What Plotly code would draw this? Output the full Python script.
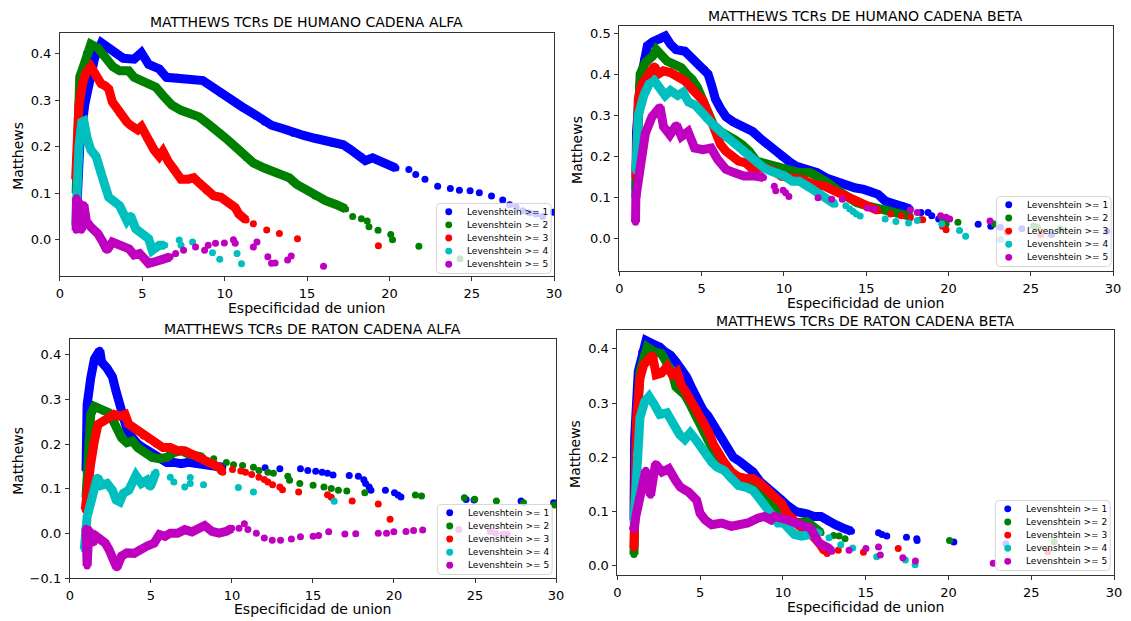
import plotly.graph_objects as go

W, H = 1131, 621

TITLES = ["MATTHEWS TCRs DE HUMANO CADENA ALFA", "MATTHEWS TCRs DE HUMANO CADENA BETA",
          "MATTHEWS TCRs DE RATON CADENA ALFA", "MATTHEWS TCRs DE RATON CADENA BETA"]
SERIES_NAMES = ["Levenshtein >= 1", "Levenshtein >= 2", "Levenshtein >= 3",
                "Levenshtein >= 4", "Levenshtein >= 5"]
X_LABEL = "Especificidad de union"
Y_LABEL = "Matthews"
X_TICKS = [0, 5, 10, 15, 20, 25, 30]
Y_TICKS_HA = [0.0, 0.1, 0.2, 0.3, 0.4]
Y_TICKS_HB = [0.0, 0.1, 0.2, 0.3, 0.4, 0.5]
Y_TICKS_RA = [-0.1, 0.0, 0.1, 0.2, 0.3, 0.4]
Y_TICKS_RB = [0.0, 0.1, 0.2, 0.3, 0.4]

# ---------------- Human alpha ----------------
HA1_DENSE = [(1.0,0.05),(1.2,0.2),(1.5,0.29),(1.8,0.34),(2.1,0.39),(2.52,0.423),(3.1,0.41),(3.84,0.39),
             (4.5,0.388),(4.94,0.402),(5.38,0.377),(6.03,0.367),(6.47,0.349),(7.13,0.349),(7.79,0.345),
             (8.67,0.342),(9.1,0.331),(9.77,0.314),(10.4,0.3),(11.08,0.285),(11.74,0.271),(12.4,0.253),
             (12.84,0.246),(13.5,0.239),(14.15,0.229),(14.8,0.224),(15.47,0.218),(16.13,0.211),
             (16.57,0.207),(17.2,0.204),(17.67,0.193),(18.3,0.179),(18.54,0.17),(18.98,0.176),
             (19.64,0.165),(20.4,0.154)]
HA1_SPARSE = [(21.18,0.151),(21.6,0.14),(22.16,0.13),(22.93,0.115),(23.7,0.11),(24.25,0.106),(24.9,0.105),
              (25.46,0.101),(26.2,0.094),(26.88,0.085),(27.3,0.075),(27.7,0.07),(28.1,0.062),(28.5,0.058),
              (28.9,0.055),(29.3,0.05),(29.95,0.059)]
HA2_DENSE = [(0.98,0.1),(1.05,0.26),(1.2,0.35),(1.4,0.37),(1.6,0.4),(1.87,0.42),(2.3,0.412),(2.6,0.398),
             (2.96,0.384),(3.2,0.372),(3.62,0.363),(4.17,0.363),(4.5,0.349),(4.94,0.342),(5.38,0.335),
             (5.82,0.328),(6.25,0.31),(6.8,0.289),(7.35,0.278),(7.79,0.271),(8.45,0.264),(9.1,0.246),
             (9.77,0.229),(10.2,0.214),(10.86,0.193),(11.3,0.176),(11.74,0.165),(12.4,0.154),(12.84,0.147),
             (13.28,0.14),(13.93,0.133),(14.37,0.119),(15.03,0.105),(15.47,0.094),(16.13,0.084),
             (16.79,0.075),(17.34,0.066)]
HA2_SPARSE = [(17.77,0.05),(18.3,0.045),(18.65,0.04),(18.76,0.028),(19.31,0.02),(20.08,0.011),(20.19,0.0),
              (21.79,-0.014),(24.29,-0.041)]
HA3_DENSE = [(0.95,0.13),(1.0,0.2),(1.15,0.29),(1.4,0.34),(1.6,0.36),(1.87,0.372),(2.19,0.349),(2.5,0.335),
             (2.74,0.331),(2.96,0.324),(3.18,0.296),(3.62,0.271),(4.06,0.253),(4.28,0.246),(4.72,0.236),
             (4.94,0.243),(5.27,0.218),(5.71,0.193),(6.03,0.179),(6.25,0.19),(6.58,0.168),(6.91,0.154),
             (7.35,0.13),(7.79,0.13),(8.12,0.133),(8.45,0.122),(8.89,0.105),(9.33,0.094),(9.77,0.091),
             (10.2,0.08),(10.64,0.069),(10.86,0.055),(11.3,0.042)]
HA3_SPARSE = [(11.74,0.034),(12.55,0.021),(13.32,0.013),(14.42,0.002),(19.33,-0.013)]
HA4_DENSE = [(0.95,0.03),(1.0,0.1),(1.15,0.2),(1.32,0.253),(1.45,0.255),(1.65,0.218),(1.87,0.193),
             (2.19,0.179),(2.41,0.147),(2.74,0.115),(2.96,0.091),(3.29,0.084),(3.62,0.073),(4.06,0.041),
             (4.28,0.052),(4.6,0.023),(4.94,0.016),(5.38,0.002),(5.6,-0.023),(6.03,-0.012),(6.36,-0.012)]
HA4_SPARSE = [(7.24,-0.001),(7.35,-0.012),(8.05,-0.005),(9.26,-0.028),(9.7,-0.042),(10.75,-0.03),
              (11.02,-0.052)]
HA5_DENSE = [(0.98,0.02),(1.0,0.09),(1.1,0.03),(1.2,0.08),(1.3,0.02),(1.45,0.075),(1.6,0.04),(1.87,0.027),
             (2.3,0.013),(2.6,-0.005),(2.85,-0.023),(3.18,-0.005),(3.5,-0.01),(3.84,-0.016),(4.2,-0.02),
             (4.5,-0.033),(4.83,-0.03),(5.1,-0.04),(5.38,-0.051),(5.82,-0.047),(6.25,-0.044),(6.69,-0.037)]
HA5_SPARSE = [(7.02,-0.03),(7.5,-0.023),(8.23,-0.016),(8.78,-0.023),(9.0,-0.012),(9.44,-0.008),
              (9.98,-0.007),(10.53,0.0),(10.64,-0.008),(11.74,-0.016),(11.96,-0.005),(12.62,-0.037),
              (12.84,-0.051),(13.06,-0.05),(13.82,-0.044),(14.04,-0.035),(16.0,-0.057)]

# ---------------- Human beta ----------------
HB1_DENSE = [(1.0,0.1),(1.04,0.26),(1.26,0.38),(1.48,0.437),(1.7,0.47),(2.02,0.48),(2.46,0.485),
             (2.78,0.494),(3.1,0.474),(3.43,0.461),(3.98,0.457),(4.41,0.441),(4.85,0.421),(5.17,0.413),
             (5.39,0.401),(5.61,0.373),(5.83,0.341),(6.15,0.317),(6.48,0.297),(6.91,0.285),(7.57,0.273),
             (8.1,0.261),(8.54,0.245),(8.98,0.229),(9.41,0.217),(9.85,0.2),(10.28,0.189),(10.72,0.177),
             (11.37,0.169),(12.02,0.161),(12.57,0.148),(13.1,0.14),(13.76,0.132),(14.3,0.124),(14.85,0.12),
             (15.28,0.116),(15.72,0.108),(16.15,0.092),(16.8,0.084),(17.24,0.08),(17.67,0.072)]
HB1_SPARSE = [(18.33,0.064),(18.76,0.064),(18.98,0.056),(19.4,0.048),(21.8,0.035),(22.57,0.03),
              (23.15,0.028),(24.46,0.024),(26.26,0.01),(29.63,0.018)]
HB2_DENSE = [(1.0,0.12),(1.1,0.3),(1.26,0.401),(1.59,0.43),(2.02,0.445),(2.24,0.461),(2.57,0.449),
             (2.89,0.433),(3.33,0.425),(3.76,0.417),(4.09,0.401),(4.41,0.389),(4.74,0.369),(5.07,0.341),
             (5.39,0.305),(5.72,0.277),(6.15,0.261),(6.59,0.253),(7.02,0.241),(7.46,0.229),(7.89,0.213),
             (8.33,0.189),(8.98,0.181),(9.63,0.177),(10.28,0.169),(10.93,0.161),(11.59,0.161),(12.02,0.152),
             (12.67,0.136),(13.33,0.116),(13.98,0.1),(14.41,0.088),(15.07,0.08),(15.72,0.072),(16.48,0.068),
             (17.13,0.06),(17.67,0.055)]
HB2_SPARSE = [(18.33,0.046),(19.63,0.048),(19.85,0.036),(20.57,0.04),(22.78,0.036),(25.17,0.031),
              (25.4,0.028),(26.8,0.023)]
HB3_DENSE = [(1.0,0.15),(1.15,0.341),(1.37,0.377),(1.8,0.401),(2.13,0.421),(2.35,0.401),(2.67,0.409),
             (3.1,0.405),(3.54,0.397),(3.98,0.385),(4.41,0.365),(4.74,0.349),(5.07,0.337),(5.28,0.317),
             (5.61,0.285),(5.93,0.253),(6.15,0.229),(6.48,0.213),(6.8,0.205),(7.24,0.189),(7.67,0.185),
             (8.1,0.169),(8.76,0.173),(9.2,0.169),(9.85,0.152),(10.5,0.148),(11.15,0.144),(11.8,0.132),
             (12.46,0.128),(13.1,0.116),(13.76,0.104),(14.41,0.088),(15.07,0.076),(15.72,0.068)]
HB3_SPARSE = [(16.48,0.06),(17.13,0.056),(17.67,0.051),(18.43,0.046),(19.63,0.03),(19.85,0.022),
              (23.54,0.016),(25.6,0.01)]
HB4_DENSE = [(1.0,0.165),(1.15,0.301),(1.48,0.349),(1.8,0.377),(2.13,0.385),(2.46,0.365),(2.78,0.349),
             (3.1,0.361),(3.54,0.349),(3.87,0.357),(4.2,0.333),(4.63,0.325),(4.96,0.309),(5.28,0.293),
             (5.72,0.277),(6.15,0.261),(6.59,0.245),(7.02,0.233),(7.46,0.217),(7.89,0.2),(8.33,0.185),
             (8.76,0.173),(9.2,0.165),(9.63,0.161),(10.07,0.152),(10.5,0.14),(10.93,0.14),(11.59,0.124),
             (12.02,0.112),(12.67,0.096),(13.1,0.084)]
HB4_SPARSE = [(13.76,0.08),(14.0,0.072),(14.2,0.066),(14.4,0.06),(14.63,0.055),(16.15,0.048),(16.8,0.042),
              (17.57,0.038),(18.1,0.044),(19.59,0.036),(20.67,0.02),(21.04,0.006),(23.15,-0.002)]
HB5_DENSE = [(0.98,0.04),(1.0,0.1),(1.28,0.177),(1.58,0.257),(1.98,0.297),(2.47,0.321),(2.68,0.273),
             (3.07,0.253),(3.47,0.277),(3.77,0.249),(4.17,0.261),(4.57,0.221),(5.07,0.217),(5.57,0.221),
             (5.97,0.193),(6.47,0.169),(6.96,0.161),(7.56,0.153),(8.16,0.153),(8.76,0.149)]
HB5_SPARSE = [(9.41,0.128),(9.5,0.117),(9.95,0.118),(10.1,0.112),(10.3,0.103),(12.07,0.1),(12.9,0.096),
              (13.54,0.096),(15.07,0.075),(15.5,0.072),(17.67,0.07),(18.1,0.064),(19.52,0.056),
              (19.85,0.052),(20.07,0.048),(22.52,0.043)]

# ---------------- Mouse alpha ----------------
RA1_DENSE = [(1.0,0.14),(1.07,0.288),(1.29,0.347),(1.52,0.39),(1.85,0.409),(1.96,0.383),(2.3,0.369),
             (2.63,0.35),(2.86,0.317),(3.08,0.288),(3.3,0.258),(3.52,0.233),(3.86,0.214),(4.19,0.2),
             (4.64,0.189),(5.09,0.178),(5.53,0.17),(5.98,0.159),(6.42,0.159),(6.87,0.156),(7.32,0.159),
             (7.76,0.157),(8.43,0.152),(9.1,0.148),(9.44,0.148)]
RA1_SPARSE = [(12.05,0.147),(12.96,0.145),(14.23,0.145),(14.68,0.141),(15.17,0.139),(15.57,0.137),
              (15.9,0.135),(16.24,0.131),(17.24,0.13),(17.8,0.128),(18.14,0.12),(18.25,0.112),(18.47,0.104),
              (18.58,0.097),(19.47,0.097),(20.03,0.091),(20.25,0.086),(20.43,0.082),(24.45,0.076),
              (24.94,0.075),(27.84,0.073),(29.85,0.069)]
RA2_DENSE = [(1.0,0.08),(1.18,0.214),(1.29,0.266),(1.52,0.284),(1.74,0.28),(2.07,0.273),(2.41,0.27),
             (2.74,0.247),(2.97,0.229),(3.19,0.214),(3.52,0.203),(3.86,0.207),(4.19,0.192),(4.64,0.181),
             (5.09,0.17),(5.53,0.167),(5.98,0.17),(6.42,0.181),(6.87,0.185),(7.32,0.178),(7.99,0.174),
             (8.21,0.17)]
RA2_SPARSE = [(8.88,0.167),(9.66,0.159),(10.1,0.154),(10.66,0.152),(11.33,0.148),(11.67,0.141),
              (12.22,0.137),(12.56,0.135),(13.45,0.128),(13.56,0.119),(14.19,0.112),(15.01,0.108),
              (15.68,0.104),(16.13,0.101),(16.57,0.097),(17.09,0.095),(18.2,0.091),(21.32,0.086),
              (21.7,0.084),(24.34,0.08),(24.98,0.077),(26.32,0.073),(27.99,0.069),(29.89,0.064)]
RA3_DENSE = [(0.95,0.053),(1.07,0.097),(1.29,0.156),(1.52,0.207),(1.74,0.244),(2.07,0.251),(2.41,0.258),
             (2.74,0.266),(3.08,0.262),(3.41,0.266),(3.64,0.244),(3.97,0.236),(4.31,0.229),(4.53,0.218),
             (4.86,0.211),(5.31,0.2),(5.75,0.192),(6.2,0.192),(6.65,0.185),(7.09,0.185),(7.54,0.178),
             (7.99,0.17),(8.43,0.163),(8.88,0.156),(9.21,0.148),(9.44,0.137)]
RA3_SPARSE = [(10.04,0.143),(10.55,0.14),(10.84,0.137),(11.22,0.132),(11.67,0.126),(12.0,0.121),
              (12.22,0.115),(12.51,0.109),(12.96,0.104),(13.12,0.098),(14.12,0.093),(15.9,0.087),
              (16.13,0.081),(17.42,0.073),(19.03,0.066),(19.76,0.032)]
RA4_DENSE = [(0.89,-0.035),(0.96,0.009),(1.07,0.038),(1.29,0.068),(1.52,0.097),(1.7,0.126),(1.96,0.108),
             (2.3,0.112),(2.63,0.097),(2.86,0.075),(3.08,0.071),(3.3,0.09),(3.64,0.097),(3.86,0.112),
             (4.08,0.13),(4.42,0.112),(4.75,0.119),(4.97,0.104),(5.2,0.12),(5.31,0.137)]
RA4_SPARSE = [(6.2,0.126),(6.42,0.115),(7.09,0.104),(7.43,0.125),(7.43,0.112),(8.25,0.109),(10.4,0.103),
              (11.33,0.093),(16.31,0.072)]
RA5_DENSE = [(1.0,0.012),(1.07,-0.072),(1.18,0.009),(1.41,-0.021),(1.63,-0.006),(1.85,-0.01),
             (2.19,-0.021),(2.41,-0.035),(2.74,-0.057),(2.9,-0.076),(3.19,-0.05),(3.52,-0.043),
             (3.97,-0.044),(4.31,-0.035),(4.75,-0.028),(5.2,-0.021),(5.53,-0.002),(5.87,-0.006),
             (6.2,0.001),(6.65,0.001),(7.09,0.009),(7.54,0.004),(7.99,0.012),(8.32,0.018),(8.77,0.005),
             (9.21,0.001),(9.66,0.005),(9.99,0.012)]
RA5_SPARSE = [(10.44,0.012),(10.77,0.022),(10.99,0.009),(11.51,0.001),(12.0,-0.01),(12.49,-0.015),
              (13.0,-0.015),(13.67,-0.012),(14.23,-0.007),(15.01,-0.006),(15.35,-0.004),(15.97,0.004),
              (16.97,-0.001),(17.64,0.0),(19.03,0.001),(19.54,0.001),(19.99,0.004),(20.74,0.005),
              (21.21,0.007),(21.77,0.008),(24.0,0.009),(25.94,0.005),(26.28,0.001),(26.72,-0.001),
              (26.99,-0.001)]

# ---------------- Mouse beta ----------------
RB1_DENSE = [(1.0,0.085),(1.04,0.236),(1.26,0.358),(1.47,0.394),(1.73,0.415),(2.12,0.409),(2.56,0.403),
             (2.88,0.394),(3.21,0.388),(3.53,0.376),(3.86,0.364),(4.18,0.348),(4.5,0.327),(4.83,0.306),
             (5.15,0.288),(5.48,0.276),(5.8,0.261),(6.24,0.239),(6.67,0.218),(7.0,0.2),(7.32,0.194),
             (7.75,0.182),(8.19,0.173),(8.62,0.155),(9.05,0.142),(9.49,0.13),(9.92,0.121),(10.24,0.112),
             (10.79,0.1),(11.44,0.096),(11.87,0.091),(12.3,0.091),(12.74,0.082),(13.17,0.076),(13.6,0.07),
             (14.14,0.064)]
RB1_SPARSE = [(15.77,0.061),(15.98,0.058),(16.27,0.055),(17.46,0.053),(18.08,0.05),(18.1,0.047),
              (20.32,0.044),(23.46,0.041)]
RB2_DENSE = [(1.0,0.021),(1.04,0.115),(1.15,0.236),(1.36,0.358),(1.58,0.388),(1.8,0.403),(2.23,0.394),
             (2.66,0.391),(2.99,0.373),(3.31,0.355),(3.53,0.33),(3.75,0.324),(4.07,0.315),(4.4,0.297),
             (4.72,0.279),(5.05,0.258),(5.37,0.242),(5.7,0.218),(6.02,0.194),(6.35,0.179),(6.67,0.17),
             (7.1,0.164),(7.54,0.158),(7.97,0.155),(8.4,0.152),(8.84,0.139),(9.27,0.121),(9.7,0.106),
             (10.24,0.091),(10.79,0.079),(11.44,0.082),(11.87,0.07),(12.3,0.061)]
RB2_SPARSE = [(13.06,0.056),(13.39,0.055),(13.75,0.05),(20.06,0.047),(26.38,0.044)]
RB3_DENSE = [(1.0,0.033),(1.04,0.085),(1.15,0.267),(1.36,0.345),(1.58,0.37),(1.91,0.382),(2.12,0.388),
             (2.34,0.352),(2.66,0.355),(2.99,0.367),(3.31,0.352),(3.6,0.358),(3.86,0.333),(4.18,0.318),
             (4.5,0.3),(4.83,0.288),(5.15,0.27),(5.48,0.248),(5.8,0.224),(6.13,0.203),(6.45,0.191),
             (6.89,0.173),(7.32,0.164),(7.75,0.161),(8.19,0.161),(8.62,0.152),(9.05,0.139),(9.49,0.127),
             (9.92,0.115),(10.24,0.097),(10.57,0.085),(11.0,0.073),(11.44,0.067),(11.87,0.055),
             (12.19,0.042),(12.52,0.027)]
RB3_SPARSE = [(12.67,0.023),(13.34,0.029),(14.86,0.025),(16.96,0.032),(26.0,0.026)]
RB4_DENSE = [(1.0,0.079),(1.15,0.206),(1.36,0.273),(1.65,0.303),(1.91,0.312),(2.23,0.297),(2.56,0.279),
             (2.99,0.282),(3.31,0.264),(3.75,0.242),(4.07,0.233),(4.4,0.245),(4.72,0.233),(5.05,0.218),
             (5.37,0.203),(5.7,0.191),(6.02,0.182),(6.45,0.176),(6.89,0.161),(7.32,0.148),(7.75,0.145),
             (8.19,0.139),(8.51,0.127),(8.84,0.112),(9.16,0.097),(9.49,0.082),(9.7,0.079),(10.03,0.079),
             (10.35,0.067),(10.68,0.058),(11.11,0.055),(11.65,0.058),(12.19,0.061)]
RB4_SPARSE = [(12.78,0.052),(13.49,0.039),(14.21,0.033),(15.66,0.017),(17.39,0.011),(17.98,0.002)]
RB5_DENSE = [(0.95,0.073),(1.01,0.067),(1.11,0.091),(1.31,0.127),(1.51,0.151),(1.71,0.176),(2.0,0.13),
             (2.3,0.188),(2.7,0.173),(3.1,0.179),(3.5,0.158),(3.8,0.145),(4.3,0.136),(4.79,0.121),
             (4.99,0.097),(5.29,0.085),(5.69,0.076),(6.29,0.079),(6.89,0.073),(7.28,0.074),(7.88,0.079),
             (8.48,0.088),(8.87,0.091),(9.27,0.085),(9.49,0.091),(10.24,0.085),(11.0,0.076),(11.65,0.07),
             (11.98,0.052),(12.19,0.042),(12.74,0.033),(12.95,0.027)]
RB5_SPARSE = [(13.99,0.029),(15.01,0.032),(15.77,0.035),(15.88,0.02),(17.24,0.015),(18.0,0.009),
              (22.7,0.005)]

PANELS = [
    [(HA1_DENSE, HA1_SPARSE), (HA2_DENSE, HA2_SPARSE), (HA3_DENSE, HA3_SPARSE), (HA4_DENSE, HA4_SPARSE), (HA5_DENSE, HA5_SPARSE)],
    [(HB1_DENSE, HB1_SPARSE), (HB2_DENSE, HB2_SPARSE), (HB3_DENSE, HB3_SPARSE), (HB4_DENSE, HB4_SPARSE), (HB5_DENSE, HB5_SPARSE)],
    [(RA1_DENSE, RA1_SPARSE), (RA2_DENSE, RA2_SPARSE), (RA3_DENSE, RA3_SPARSE), (RA4_DENSE, RA4_SPARSE), (RA5_DENSE, RA5_SPARSE)],
    [(RB1_DENSE, RB1_SPARSE), (RB2_DENSE, RB2_SPARSE), (RB3_DENSE, RB3_SPARSE), (RB4_DENSE, RB4_SPARSE), (RB5_DENSE, RB5_SPARSE)],
]
Y_TICKS = [Y_TICKS_HA, Y_TICKS_HB, Y_TICKS_RA, Y_TICKS_RB]

# ---------------- layout (pixel geometry) ----------------
COLORS = ["#0000ff", "#008000", "#ff0000", "#00bfbf", "#bf00bf"]
FONT = "DejaVu Sans"
# axes boxes in pixels: left, right, top, bottom
BOXES = [(56.6, 556, 33.3, 280), (622, 1121, 26.7, 275), (66.5, 558, 343.3, 586), (620, 1122, 334.3, 582.7)]
Y_RANGES = [(-0.079, 0.4446), (-0.080, 0.5176), (-0.1, 0.4346), (-0.0171, 0.4345)]
TITLE_POS = [(306, 22), (871, 16), (312, 333), (871, 325)]
YLAB_POS = [(14, 158), (579, 152), (14, 467), (577, 460)]
# x-label: centre x, bottom edge of the text box (pixels)
XLAB_POS = [(306, 321), (871, 316), (312, 626), (871, 624)]
# legend boxes: right, bottom (pixels)
LEG_POS = [(553, 277), (1119, 270), (554, 582), (1118, 578)]
LEG_W, LEG_H, LEG_ROW, LEG_TOP_PAD, LEG_MARK_X, LEG_TEXT_X, LEG_R = 116, 71, 13.3, 8.5, 12.5, 29, 4


def px(x):
    return x / W


def py(y):
    return 1 - y / H


fig = go.Figure()
for p, panel in enumerate(PANELS):
    sfx = "" if p == 0 else str(p + 1)
    for s, (dense, sparse) in enumerate(panel):
        dx = [pt[0] for pt in dense]
        dy = [pt[1] for pt in dense]
        ax = dx + [pt[0] for pt in sparse]
        ay = dy + [pt[1] for pt in sparse]
        fig.add_trace(go.Scatter(x=dx, y=dy, mode="lines", line=dict(color=COLORS[s], width=9),
                                 showlegend=False, hoverinfo="skip", name=SERIES_NAMES[s],
                                 xaxis="x" + sfx, yaxis="y" + sfx))
        fig.add_trace(go.Scatter(x=ax, y=ay, mode="markers", name=SERIES_NAMES[s], showlegend=False,
                                 marker=dict(color=COLORS[s], size=7, line=dict(width=0)),
                                 xaxis="x" + sfx, yaxis="y" + sfx))

layout = dict(width=W, height=H, margin=dict(l=0, r=0, t=0, b=0), showlegend=False,
              paper_bgcolor="white", plot_bgcolor="white",
              font=dict(family=FONT, color="black"), annotations=[], shapes=[])
for p in range(4):
    sfx = "" if p == 0 else str(p + 1)
    l, r, t, b = BOXES[p]
    axcommon = dict(showline=True, mirror=True, linecolor="#333333", linewidth=1,
                    ticks="outside", ticklen=4, tickcolor="#333333", tickwidth=1,
                    showgrid=False, zeroline=False,
                    tickfont=dict(family=FONT, size=13, color="black"))
    layout["xaxis" + sfx] = dict(axcommon, domain=[px(l), px(r)], range=[0, 30],
                                 tickvals=X_TICKS, ticktext=[str(v) for v in X_TICKS],
                                 ticklabelstandoff=1, anchor="y" + sfx)
    yt = Y_TICKS[p]
    layout["yaxis" + sfx] = dict(axcommon, domain=[py(b), py(t)], range=list(Y_RANGES[p]),
                                 tickvals=yt, ticktext=[("\u2212%.1f" % abs(v)) if v < 0 else "%.1f" % v for v in yt],
                                 ticklabelstandoff=1, anchor="x" + sfx)
    tx, ty = TITLE_POS[p]
    layout["annotations"].append(dict(text=TITLES[p], x=px(tx), y=py(ty), xref="paper", yref="paper",
                                      showarrow=False, xanchor="center", yanchor="middle",
                                      font=dict(family=FONT, size=14, color="black")))
    yx, yy = YLAB_POS[p]
    layout["annotations"].append(dict(text=Y_LABEL, x=px(yx), y=py(yy), xref="paper", yref="paper",
                                      showarrow=False, xanchor="center", yanchor="middle", textangle=-90,
                                      font=dict(family=FONT, size=14, color="black")))
    lx, ly = XLAB_POS[p]
    layout["annotations"].append(dict(text=X_LABEL, x=px(lx), y=py(ly), xref="paper", yref="paper",
                                      showarrow=False, xanchor="center", yanchor="bottom", borderpad=0,
                                      font=dict(family=FONT, size=14, color="black")))

    # matplotlib-style legend (rounded, semi-transparent frame) in the lower right corner
    rr, bb = LEG_POS[p]
    ll, tt = rr - LEG_W, bb - LEG_H
    rad = LEG_R
    path = ("M {a},{b} L {c},{b} Q {r},{b} {r},{d} L {r},{e} Q {r},{bt} {c},{bt} "
            "L {a},{bt} Q {l},{bt} {l},{e} L {l},{d} Q {l},{b} {a},{b} Z").format(
        a=px(ll + rad), b=py(tt), c=px(rr - rad), r=px(rr), d=py(tt + rad), e=py(bb - rad),
        bt=py(bb), l=px(ll))
    layout["shapes"].append(dict(type="path", path=path, xref="paper", yref="paper", layer="above",
                                 fillcolor="rgba(255,255,255,0.8)", line=dict(color="#d6d6d6", width=1)))
    for s in range(5):
        cy = tt + LEG_TOP_PAD + s * LEG_ROW
        cx = ll + LEG_MARK_X
        layout["shapes"].append(dict(type="circle", xref="paper", yref="paper", layer="above",
                                     x0=px(cx - 3.5), x1=px(cx + 3.5), y0=py(cy + 3.5), y1=py(cy - 3.5),
                                     fillcolor=COLORS[s], line=dict(width=0)))
        layout["annotations"].append(dict(text=SERIES_NAMES[s], x=px(ll + LEG_TEXT_X), y=py(cy),
                                          xref="paper", yref="paper", showarrow=False,
                                          xanchor="left", yanchor="middle",
                                          font=dict(family=FONT, size=9, color="black")))

fig.update_layout(**layout)
fig.write_html("out.html")
